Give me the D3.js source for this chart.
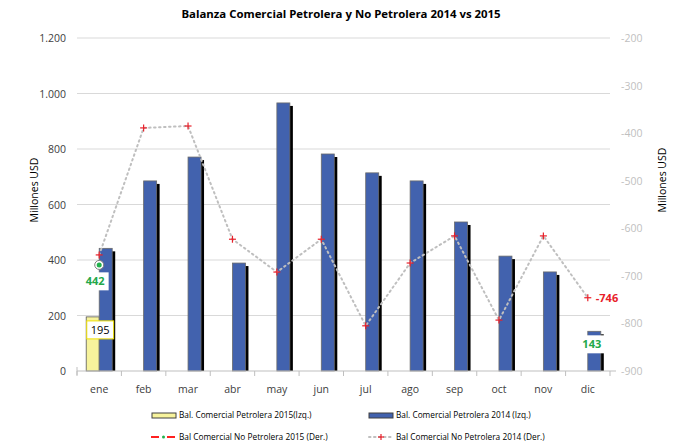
<!DOCTYPE html>
<html><head><meta charset="utf-8">
<script src="https://cdn.jsdelivr.net/npm/d3@7"></script>
<style>body{margin:0;background:#fff}svg{display:block;font-family:"Open Sans",sans-serif}</style>
</head><body><svg id="c" width="680" height="447"></svg>
<script>
const months = ["ene","feb","mar","abr","may","jun","jul","ago","sep","oct","nov","dic"];
const petro2015 = [195,null,null,null,null,null,null,null,null,null,null,null];
const petro2014 = [442,685,771,389,966,782,714,685,537,414,357,143];
const noPetro2015 = [-677,null,null,null,null,null,null,null,null,null,null,null];
const noPetro2014 = [-656,-389,-385,-623,-692,-623,-805,-673,-616,-793,-616,-746];
const leftTicks = [0,200,400,600,800,1000,1200];
const rightTicks = [-900,-800,-700,-600,-500,-400,-300,-200];
const title = "Balanza Comercial Petrolera y No Petrolera 2014 vs 2015";

const svg = d3.select("#c");
const x0=77, x1=610, yT=38, yB=371;
const x = d3.scaleBand().domain(months).range([x0,x1]);
const yL = d3.scaleLinear().domain([0,1200]).range([yB,yT]);
const yR = d3.scaleLinear().domain([-900,-200]).range([yB,yT]);
const fmt = d => d3.format(",")(d).replace(/,/g,".");
const bw = 13;
const cx = m => x(m)+x.bandwidth()/2;

svg.append("text").attr("x",341).attr("y",18).attr("text-anchor","middle")
  .attr("font-size",11.4).attr("font-weight","bold").attr("fill","#000").text(title);

// gridlines
svg.append("g").selectAll("line").data(leftTicks.filter(d=>d>0)).join("line")
  .attr("x1",x0).attr("x2",x1).attr("y1",d=>yL(d)).attr("y2",d=>yL(d))
  .attr("stroke","#d9d9d9").attr("stroke-width",1);

// left axis labels
svg.append("g").selectAll("text").data(leftTicks).join("text")
  .attr("x",66).attr("y",d=>yL(d)+4).attr("text-anchor","end")
  .attr("font-size",10.5).attr("fill","#404040").text(fmt);
svg.append("line").attr("x1",x0).attr("x2",x0).attr("y1",yB-4).attr("y2",yB+4).attr("stroke","#bfbfbf");
// right axis labels
svg.append("g").selectAll("text").data(rightTicks).join("text")
  .attr("x",621).attr("y",d=>yR(d)+4).attr("text-anchor","start")
  .attr("font-size",10.5).attr("fill","#bfbfbf").text(d=>d);

// axis titles
svg.append("text").attr("transform","translate(38,190) rotate(-90)").attr("text-anchor","middle")
  .attr("font-size",10.5).attr("fill","#000").text("Millones USD");
svg.append("text").attr("transform","translate(666,180) rotate(-90)").attr("text-anchor","middle")
  .attr("font-size",10.5).attr("fill","#000").text("Millones USD");

// bars 2015
svg.append("g").selectAll("rect").data(months.map((m,i)=>({m,v:petro2015[i]})).filter(d=>d.v!=null)).join("rect")
  .attr("x",d=>cx(d.m)-bw).attr("width",bw).attr("y",d=>yL(d.v)).attr("height",d=>yB-yL(d.v))
  .attr("fill","#f7f39c").attr("stroke","#595959").attr("stroke-width",0.8);
// bars 2014 shadow + bar
const b14 = months.map((m,i)=>({m,v:petro2014[i]}));
svg.append("g").selectAll("rect").data(b14).join("rect")
  .attr("x",d=>cx(d.m)+3).attr("width",bw).attr("y",d=>yL(d.v)+3).attr("height",d=>yB-yL(d.v)-3)
  .attr("fill","#000");
svg.append("g").selectAll("rect").data(b14).join("rect")
  .attr("x",d=>cx(d.m)).attr("width",bw).attr("y",d=>yL(d.v)).attr("height",d=>yB-yL(d.v))
  .attr("fill","#4262ae").attr("stroke","#6b6b6b").attr("stroke-width",0.8);

// x axis
svg.append("line").attr("x1",x0).attr("x2",x1).attr("y1",yB).attr("y2",yB).attr("stroke","#bfbfbf");
svg.append("g").selectAll("line").data(d3.range(13)).join("line")
  .attr("x1",i=>x0+i*x.step()).attr("x2",i=>x0+i*x.step()).attr("y1",yB).attr("y2",yB+5).attr("stroke","#bfbfbf");
svg.append("line").attr("x1",x1).attr("x2",x1+6).attr("y1",yB).attr("y2",yB).attr("stroke","#bfbfbf");
svg.append("g").selectAll("text").data(months).join("text")
  .attr("x",d=>cx(d)).attr("y",393).attr("text-anchor","middle")
  .attr("font-size",10.5).attr("fill","#404040").text(d=>d);

// line 2014
const l14 = months.map((m,i)=>({m,v:noPetro2014[i]}));
svg.append("path").datum(l14)
  .attr("d",d3.line().x(d=>cx(d.m)).y(d=>yR(d.v)))
  .attr("fill","none").attr("stroke","#bfbfbf").attr("stroke-width",2)
  .attr("stroke-dasharray","1.5,3.5").attr("stroke-linecap","round");
const plus = (g,px,py,s)=>{g.append("line").attr("x1",px-s).attr("x2",px+s).attr("y1",py).attr("y2",py).attr("stroke","#e8202a").attr("stroke-width",1.2);
  g.append("line").attr("x1",px).attr("x2",px).attr("y1",py-s).attr("y2",py+s).attr("stroke","#e8202a").attr("stroke-width",1.2);};
const pg = svg.append("g");
l14.forEach(d=>plus(pg,cx(d.m),yR(d.v),3.5));

// line 2015
const l15 = months.map((m,i)=>({m,v:noPetro2015[i]})).filter(d=>d.v!=null);
svg.append("path").datum(l15).attr("d",d3.line().x(d=>cx(d.m)).y(d=>yR(d.v)))
  .attr("fill","none").attr("stroke","#ff2020").attr("stroke-width",2);
l15.forEach(d=>{
  svg.append("circle").attr("cx",cx(d.m)).attr("cy",yR(d.v)).attr("r",4.5).attr("fill","#fff").attr("stroke","#7f7f7f").attr("stroke-width",1);
  svg.append("circle").attr("cx",cx(d.m)).attr("cy",yR(d.v)).attr("r",2.5).attr("fill","#22b14c");
});

// data labels
function boxLabel(txt,px,py,color,bold,border){
  const g=svg.append("g");
  const t=g.append("text").attr("x",px).attr("y",py+4).attr("text-anchor","middle")
    .attr("font-size",11).attr("font-weight",bold?"bold":"normal").attr("fill",color).text(txt);
  const w=t.node().getComputedTextLength()+8;
  g.insert("rect","text").attr("x",px-w/2).attr("y",py-9).attr("width",w).attr("height",18)
    .attr("fill","#fff").attr("stroke",border||"none").attr("stroke-width",1);
}
boxLabel(petro2014[0],cx(months[0])-4,yL(petro2014[0])+33,"#22a84a",true,null);
boxLabel(petro2015[0],cx(months[0])+1,yL(petro2015[0])+13,"#000",false,"#f0e000");
boxLabel(petro2014[11],cx(months[11])+4,yL(petro2014[11])+13,"#22a84a",true,null);
svg.append("text").attr("x",cx(months[11])+8).attr("y",yR(noPetro2014[11])+4)
  .attr("font-size",11).attr("font-weight","bold").attr("fill","#e8202a").text(noPetro2014[11]);

// legend
const lg=svg.append("g").attr("font-size",8.3).attr("fill","#000");
lg.append("rect").attr("x",152).attr("y",413).attr("width",24).attr("height",5).attr("fill","#f7f39c").attr("stroke","#404040");
lg.append("text").attr("x",179).attr("y",418).text("Bal. Comercial Petrolera 2015(Izq.)");
lg.append("rect").attr("x",369).attr("y",413).attr("width",24).attr("height",5).attr("fill","#4262ae").attr("stroke","#404040");
lg.append("text").attr("x",396).attr("y",418).text("Bal. Comercial Petrolera 2014 (Izq.)");
lg.append("line").attr("x1",151).attr("x2",176).attr("y1",437).attr("y2",437).attr("stroke","#ff2020").attr("stroke-width",2).attr("stroke-dasharray","8,8");
lg.append("circle").attr("cx",163.5).attr("cy",437).attr("r",1.5).attr("fill","#22b14c");
lg.append("text").attr("x",179).attr("y",440).text("Bal Comercial No Petrolera 2015 (Der.)");
lg.append("line").attr("x1",369).attr("x2",393).attr("y1",437).attr("y2",437).attr("stroke","#bfbfbf").attr("stroke-width",2).attr("stroke-dasharray","1.5,3.5").attr("stroke-linecap","round");
plus(lg,381,437,3);
lg.append("text").attr("x",396).attr("y",440).text("Bal Comercial No Petrolera 2014 (Der.)");
</script></body></html>
